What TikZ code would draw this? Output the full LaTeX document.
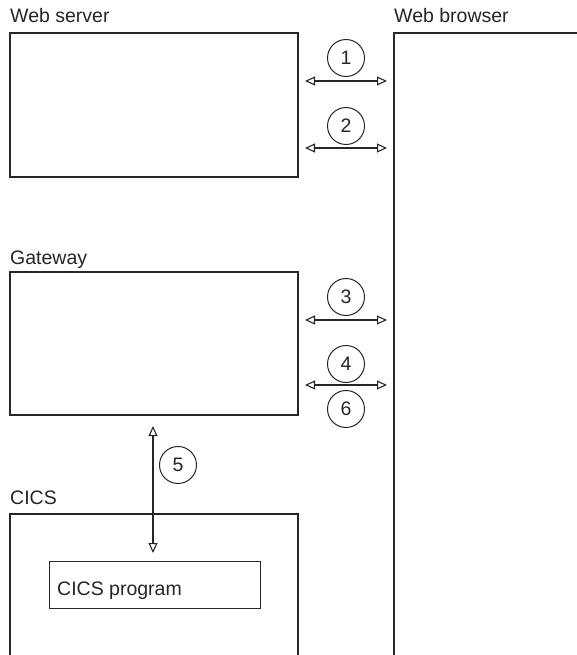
\documentclass[tikz,border=0pt]{standalone}
\usepackage{fontspec}
\setmainfont{Liberation Sans}
\usetikzlibrary{arrows.meta}
\begin{document}
\begin{tikzpicture}[x=1pt,y=-1pt,
  box/.style={draw=black!85,line width=1.1pt},
  lbl/.style={anchor=base west,inner sep=0pt,font=\fontsize{19.5}{23}\selectfont,text=black!85},
  num/.style={draw=black!85,circle,line width=1pt,minimum size=37pt,inner sep=0pt,font=\fontsize{19.5}{23}\selectfont,text=black!85},
  link/.style={draw=black!85,line width=1.1pt,{Triangle[open,length=10pt,width=9pt]}-{Triangle[open,length=10pt,width=9pt]}}]
\useasboundingbox (0,0) rectangle (577,655);
\clip (0,0) rectangle (577,655);
% boxes
\draw[box] (10,33) rectangle (298,177);
\draw[box] (600,700) -- (394,700) -- (394,33) -- (600,33);
\draw[box] (10,272) rectangle (298,415);
\draw[box] (298,700) -- (298,514) -- (10,514) -- (10,700);
\node[box,minimum width=211pt,minimum height=47pt,anchor=north west,inner sep=0pt] (prog) at (49,561) {};
\node[lbl] (progl) at (57,595) {CICS program};
% labels
\node[lbl] (ws) at (10,23) {Web server};
\node[lbl] (wb) at (394,23) {Web browser};
\node[lbl] (gw) at (10,264) {Gateway};
\node[lbl] (cics) at (10,504) {CICS};
% coordinates
\coordinate (a1l) at (305,81); \coordinate (a1r) at (387,81);
\coordinate (a2l) at (305,148); \coordinate (a2r) at (387,148);
\coordinate (a3l) at (305,320); \coordinate (a3r) at (387,320);
\coordinate (a4l) at (305,385); \coordinate (a4r) at (387,385);
\coordinate (a5t) at (153,426); \coordinate (a5b) at (153,553);
\draw[link] (a1l) -- (a1r);
\draw[link] (a2l) -- (a2r);
\draw[link] (a3l) -- (a3r);
\draw[link] (a4l) -- (a4r);
\draw[link] (a5t) -- (a5b);
% numbers
\node[num] (n1) at (346,58) {1};
\node[num] (n2) at (346,126) {2};
\node[num] (n3) at (346,297) {3};
\node[num] (n4) at (346,364) {4};
\node[num] (n6) at (346,409) {6};
\node[num] (n5) at (178,465) {5};
\end{tikzpicture}
\end{document}
